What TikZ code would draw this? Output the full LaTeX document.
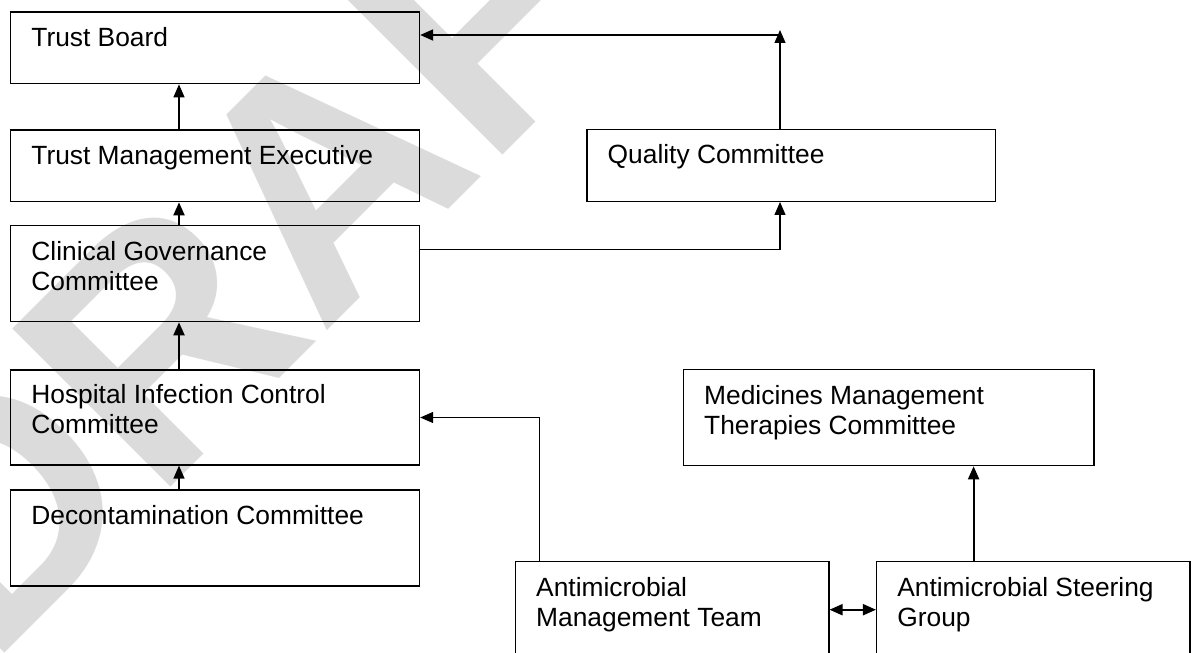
\documentclass[tikz,border=0pt]{standalone}
\usepackage{fontspec}
\setmainfont{Liberation Sans}
\usepackage{tikz}
\usetikzlibrary{arrows.meta, calc, positioning}

\definecolor{wmgray}{gray}{0.86}
\newcommand{\boxfont}{\fontsize{15}{17.1}\selectfont}

\tikzset{
  box/.style={draw, line width=0.7pt, inner sep=0pt,
              minimum width=8.18cm, minimum height=1.434cm},
  tallbox/.style={box, minimum height=1.92cm},
  smallbox/.style={tallbox, minimum width=6.27cm},
  boxtext/.style={inner sep=0pt, align=left, font=\boxfont},
  link/.style={->, line width=0.7pt},
  boldlink/.style={->, line width=1.1pt},
  watermark/.style={text=wmgray, inner sep=0pt,
                    font=\fontsize{185}{185}\selectfont\bfseries}
}

\begin{document}
\begin{tikzpicture}[x=0.02cm, y=-0.02cm, >={Triangle[length=0.26cm,width=0.22cm]}]
  \useasboundingbox (0,0) rectangle (1192,652);
  \clip (0,0) rectangle (1192,652);

  % watermark behind everything
  \node[watermark, rotate=45] (draft) at (300,200) {DRAFT};

  % left column
  \node[box] (tb) at (215.1,47.9) {};
  \node[box] (tme) at (215.1,165.9) {};
  \node[tallbox] (cgc) at (215.1,273.7) {};
  \node[tallbox, minimum height=1.9cm] (hicc) at (215.1,417.5) {};
  \node[tallbox] (decon) at (215.1,538) {};
  % right side
  \node[box, minimum width=8.17cm] (qc) at (791.2,165.5) {};
  \node[tallbox, minimum width=8.21cm] (mmtc) at (888.7,417.7) {};
  \node[smallbox] (amt) at (672.2,609.7) {};
  \node[smallbox] (asg) at (1033.3,609.7) {};

  % texts, top left of each box
  \node[boxtext, below right=0.31cm and 0.42cm of tb.north west] (tbtext) {Trust Board};
  \node[boxtext, below right=0.31cm and 0.42cm of tme.north west] (tmetext) {Trust Management Executive};
  \node[boxtext, below right=0.31cm and 0.42cm of cgc.north west] (cgctext) {Clinical Governance\\Committee};
  \node[boxtext, below right=0.29cm and 0.42cm of hicc.north west] (hicctext) {Hospital Infection Control\\Committee};
  \node[boxtext, below right=0.31cm and 0.42cm of decon.north west] (decontext) {Decontamination Committee};
  \node[boxtext, below right=0.31cm and 0.42cm of qc.north west] (qctext) {Quality Committee};
  \node[boxtext, below right=0.31cm and 0.42cm of mmtc.north west] (mmtctext) {Medicines Management\\Therapies Committee};
  \node[boxtext, below right=0.31cm and 0.42cm of amt.north west] (amttext) {Antimicrobial\\Management Team};
  \node[boxtext, below right=0.31cm and 0.42cm of asg.north west] (asgtext) {Antimicrobial Steering\\Group};

  % bends of the connectors
  \coordinate (spine) at (179,0);
  \coordinate (tbcorner) at (780,35);
  \coordinate (qcleg) at (780,249.3);
  \coordinate (amtleg) at (539.6,417.5);
  \coordinate (asgleg) at (973.6,0);

  % connectors
  \draw[link] (tme.north -| spine) -- (tb.south -| spine);
  \draw[boldlink] (cgc.north -| spine) -- (tme.south -| spine);
  \draw[boldlink] (hicc.north -| spine) -- (cgc.south -| spine);
  \draw[link] (decon.north -| spine) -- (hicc.south -| spine);
  \draw[link, shorten >=-0.1cm] (qc.north -| tbcorner) -- (tbcorner);
  \draw[boldlink] (tbcorner) -- (tb.east |- tbcorner);
  \draw[link] (cgc.east |- qcleg) -- (qcleg) -- (qc.south -| qcleg);
  \draw[link] (amt.north -| amtleg) -- (amtleg) -- (hicc.east);
  \draw[boldlink] (asg.north -| asgleg) -- (mmtc.south -| asgleg);
  \draw[boldlink, <->] (amt.east) -- (asg.west);
\end{tikzpicture}
\end{document}
